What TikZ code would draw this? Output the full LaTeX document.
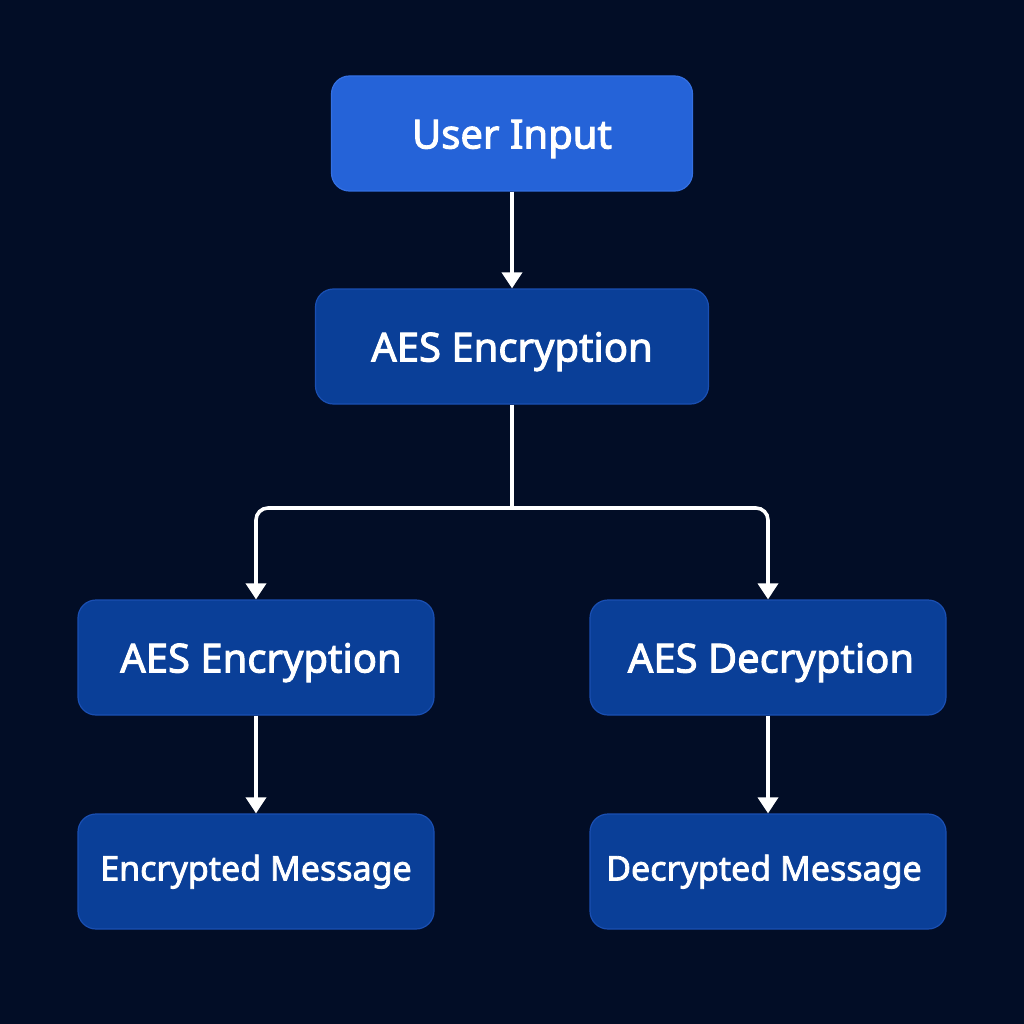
\documentclass[tikz,border=0pt]{standalone}
\usepackage{fontspec}
\setmainfont{Noto Sans}
\newfontfamily\medfont{Noto Sans}[FakeBold=2.4]
\usetikzlibrary{arrows.meta}
\definecolor{bgc}{HTML}{020D26}
\definecolor{topfill}{HTML}{2563D8}
\definecolor{topdraw}{HTML}{3470E2}
\definecolor{boxfill}{HTML}{0A3F98}
\definecolor{boxdraw}{HTML}{1A4FB2}
\tikzset{
  box/.style={draw=boxdraw, fill=boxfill, line width=1.2pt, rounded corners=18pt, text=white, inner sep=0pt},
  topbox/.style={box, draw=topdraw, fill=topfill},
  bigtxt/.style={font=\medfont\fontsize{40}{44}\selectfont, text height=30pt, text depth=0pt},
  smalltxt/.style={font=\medfont\fontsize{34}{38}\selectfont, text height=26pt, text depth=8pt},
  wire/.style={draw=white, line width=3.6pt, rounded corners=12pt},
  link/.style={wire, -{Triangle[width=20pt,length=16pt]}}
}
\begin{document}
\begin{tikzpicture}[x=1pt,y=-1pt]
\fill[bgc] (0,0) rectangle (1024,1024);
\useasboundingbox (0,0) rectangle (1024,1024);
\node[topbox, bigtxt, minimum width=361pt, minimum height=115pt] (in) at (512,133.5) {User Input};
\node[box, bigtxt, minimum width=393pt, minimum height=115pt] (enc) at (512,346.5) {AES Encryption};
\node[box, bigtxt, minimum width=356pt, minimum height=115pt] (encl) at (256,657.5) {\kern10pt AES Encryption};
\node[box, bigtxt, minimum width=356pt, minimum height=115pt] (dec) at (768,657.5) {\kern6pt AES Decryption};
\node[box, smalltxt, minimum width=356pt, minimum height=115pt] (em) at (256,871.5) {Encrypted Message};
\node[box, smalltxt, minimum width=356pt, minimum height=115pt] (dm) at (768,871.5) {Decrypted Message\kern8pt};
\coordinate (j) at (512,508);
\draw[link] (in.south) -- (enc.north);
\draw[wire] (enc.south) -- (j);
\draw[link] (j) -| (encl.north);
\draw[link] (j) -| (dec.north);
\draw[link] (encl.south) -- (em.north);
\draw[link] (dec.south) -- (dm.north);
\end{tikzpicture}
\end{document}
